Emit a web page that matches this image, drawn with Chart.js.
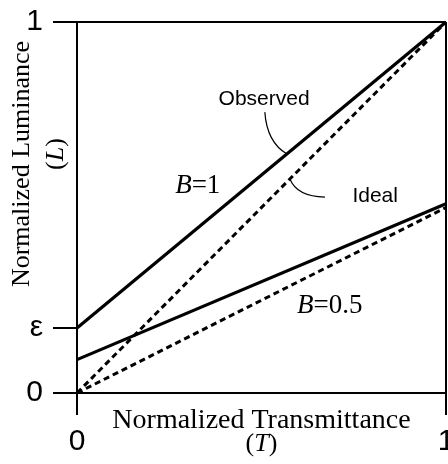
<!DOCTYPE html>
<html>
<head>
<meta charset="utf-8">
<script src="https://cdn.jsdelivr.net/npm/chart.js@4.4.1/dist/chart.umd.min.js"></script>
<style>
  html, body { margin: 0; padding: 0; background: #fff; }
  #wrap { width: 448px; height: 464px; }
</style>
</head>
<body>
<div id="wrap"><canvas id="lumChart" width="448" height="464"></canvas></div>
<script>
// data
const eps = 0.175
const transmittance = [0, 1]
const idealB1 = [0, 1]
const observedB1 = [eps, 1]
const idealB05 = [0, 0.5]
const observedB05 = [0.09, 0.51]

const xTickValues = [0, 1]
const xTickLabels = ['0', '1']
const yTickValues = [0, eps, 1]
const yTickLabels = ['0', 'ε', '1']

const toPoints = (ys) => transmittance.map((t, i) => ({x: t, y: ys[i]}))
const lineAt = (ys, t) => ys[0] + (ys[1] - ys[0]) * t

// text + leader lines drawn on top of the chart
const labelPlugin = {
  id: 'labels',
  afterDraw(chart) {
    const ctx = chart.ctx
    const xs = chart.scales.x, ys = chart.scales.y
    const area = chart.chartArea
    const px = (v) => xs.getPixelForValue(v)
    const py = (v) => ys.getPixelForValue(v)
    ctx.save()
    ctx.fillStyle = '#000'
    ctx.strokeStyle = '#000'

    // x axis title
    ctx.textAlign = 'center'
    ctx.textBaseline = 'alphabetic'
    ctx.font = '28px "Liberation Serif"'
    const cx = (area.left + area.right) / 2
    ctx.fillText('Normalized Transmittance', cx, area.bottom + 35)
    drawMixed(ctx, [['(', 'normal'], ['T', 'italic'], [')', 'normal']], cx, area.bottom + 58, 26)

    // y axis title (rotated)
    ctx.save()
    ctx.translate(area.left - 55, area.top + 142)
    ctx.rotate(-Math.PI / 2)
    ctx.textAlign = 'center'
    ctx.textBaseline = 'middle'
    ctx.font = '26px "Liberation Serif"'
    ctx.fillText('Normalized Luminance', 0, 0)
    ctx.restore()
    ctx.save()
    ctx.translate(area.left - 21, area.top + 132)
    ctx.rotate(-Math.PI / 2)
    ctx.textBaseline = 'middle'
    drawMixed(ctx, [['(', 'normal'], ['L', 'italic'], [')', 'normal']], 0, 0, 26)
    ctx.restore()

    // B labels
    ctx.textBaseline = 'alphabetic'
    drawMixed(ctx, [['B', 'italic'], ['=1', 'normal']], px(0.266), py(0.539), 27, 'left')
    drawMixed(ctx, [['B', 'italic'], ['=0.5', 'normal']], px(0.596), py(0.216), 27, 'left')

    // Observed / Ideal
    ctx.font = '21px "Liberation Sans"'
    ctx.textAlign = 'center'
    ctx.textBaseline = 'middle'
    ctx.fillText('Observed', px(0.507), py(0.792))
    ctx.fillText('Ideal', px(0.808), py(0.531))

    ctx.lineWidth = 1.2
    ctx.beginPath()
    ctx.moveTo(px(0.509), py(0.757))
    ctx.quadraticCurveTo(px(0.515), py(0.675), px(0.569), py(lineAt(observedB1, 0.569)))
    ctx.stroke()
    ctx.beginPath()
    ctx.moveTo(px(0.672), py(0.528))
    ctx.quadraticCurveTo(px(0.596), py(0.530), px(0.577), py(lineAt(idealB1, 0.577)))
    ctx.stroke()
    ctx.restore()
  }
}

// draws runs of text with differing styles, centered on x unless align given
function drawMixed(ctx, runs, x, y, size, align) {
  const fontFor = (s) => s + ' ' + size + 'px "Liberation Serif"'
  let total = 0
  runs.forEach(r => { ctx.font = fontFor(r[1]); total += ctx.measureText(r[0]).width })
  let cur = align === 'left' ? x : x - total / 2
  const oldAlign = ctx.textAlign
  ctx.textAlign = 'left'
  runs.forEach(r => {
    ctx.font = fontFor(r[1])
    ctx.fillText(r[0], cur, y)
    cur += ctx.measureText(r[0]).width
  })
  ctx.textAlign = oldAlign
}

const solid = (data) => ({
  data: toPoints(data), borderColor: '#000', borderWidth: 3.2,
  pointRadius: 0, fill: false, clip: false
})
const dashed = (data) => ({
  data: toPoints(data), borderColor: '#000', borderWidth: 3,
  borderDash: [6, 4], pointRadius: 0, fill: false, clip: false
})

new Chart('lumChart', {
  type: 'line',
  data: {
    datasets: [solid(observedB1), dashed(idealB1), solid(observedB05), dashed(idealB05)]
  },
  options: {
    responsive: false,
    animation: false,
    events: [],
    layout: { autoPadding: false, padding: { top: 22, right: 2, left: 0, bottom: 0 } },
    plugins: { legend: { display: false }, tooltip: { enabled: false } },
    scales: {
      x: {
        type: 'linear', min: 0, max: 1,
        afterBuildTicks: (s) => { s.ticks = xTickValues.map(v => ({value: v})) },
        afterFit: (s) => { s.height = 71; s.paddingLeft = 0; s.paddingRight = 0 },
        ticks: {
          callback: (v, i) => xTickLabels[i],
          color: '#000', padding: 9, maxRotation: 0,
          font: { family: 'Liberation Sans', size: 30 }
        },
        grid: { color: '#000', tickColor: '#000', lineWidth: 2, tickLength: 22 },
        border: { color: '#000', width: 2 }
      },
      y: {
        type: 'linear', min: 0, max: 1,
        afterBuildTicks: (s) => { s.ticks = yTickValues.map(v => ({value: v})) },
        afterFit: (s) => { s.width = 77; s.paddingTop = 0; s.paddingBottom = 0 },
        ticks: {
          callback: (v, i) => yTickLabels[i],
          color: '#000', padding: 10,
          font: { family: 'Liberation Sans', size: 30 }
        },
        grid: {
          color: (c) => (c.tick && c.tick.value === eps) ? 'rgba(0,0,0,0)' : '#000',
          tickColor: '#000', lineWidth: 2, tickLength: 24
        },
        border: { color: '#000', width: 2 }
      }
    }
  },
  plugins: [labelPlugin]
})
</script>
</body>
</html>
